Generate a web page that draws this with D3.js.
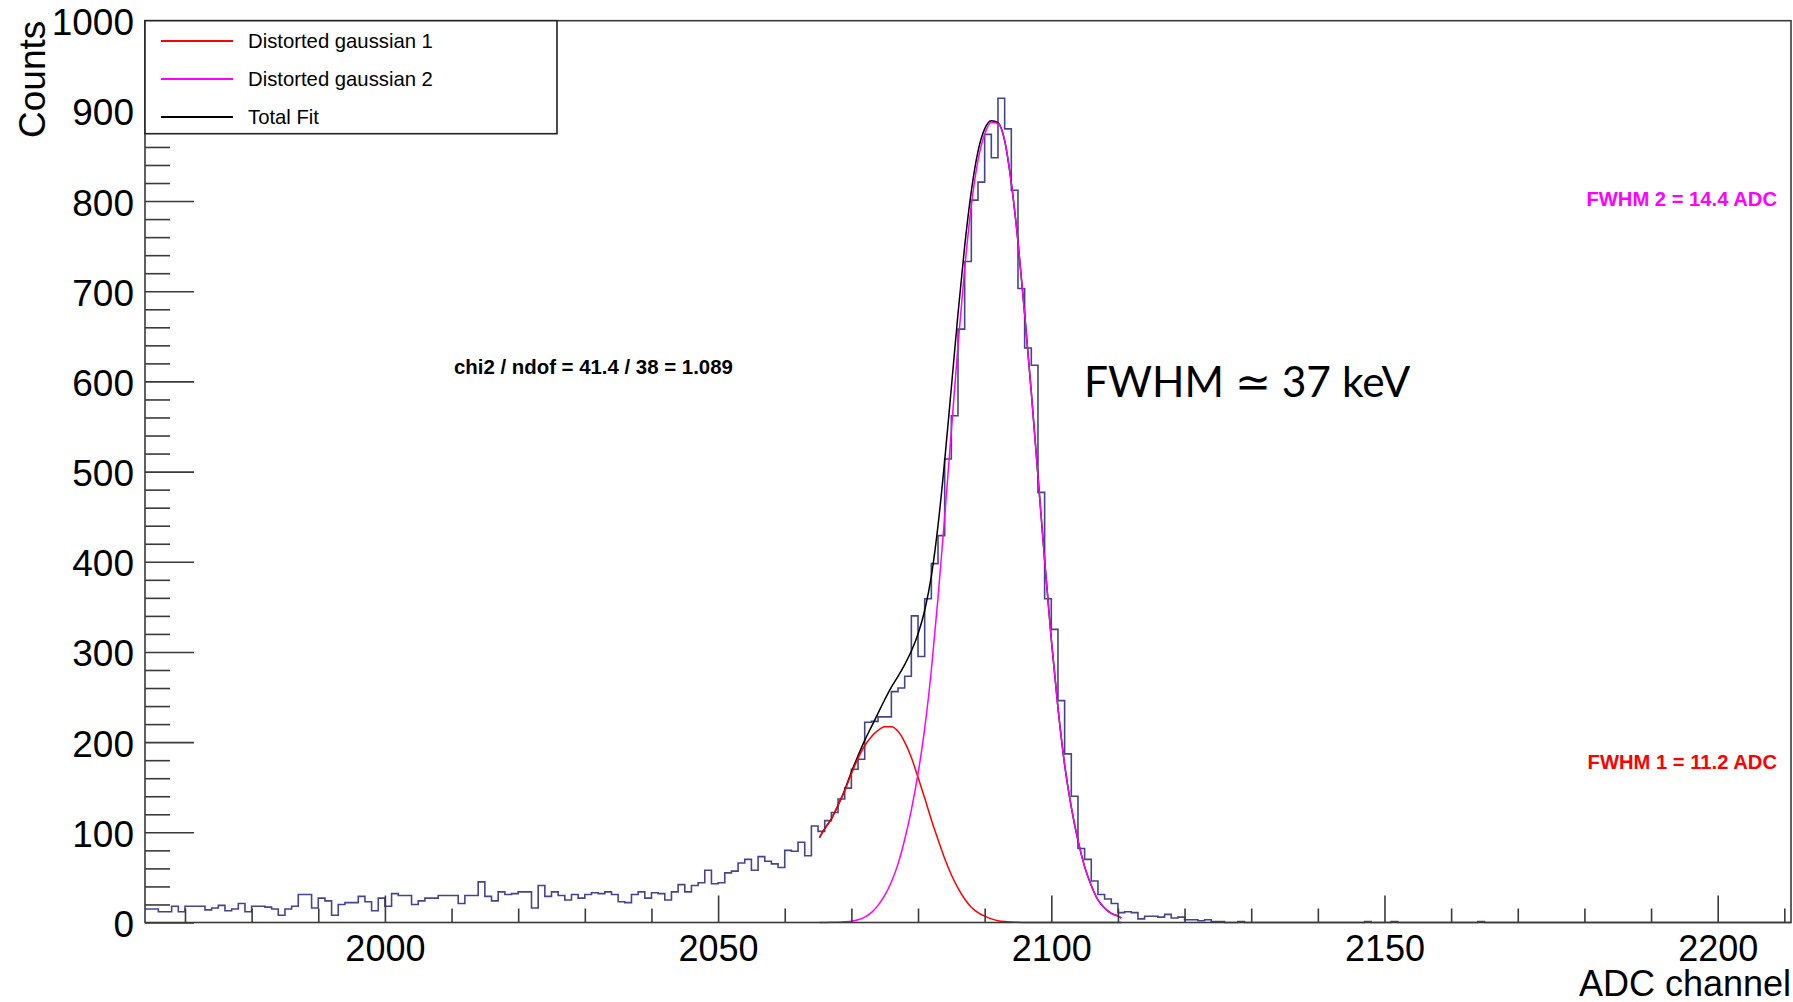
<!DOCTYPE html>
<html>
<head>
<meta charset="utf-8">
<script src="https://cdn.jsdelivr.net/npm/d3@7"></script>
<style>
  html, body { margin: 0; padding: 0; background: #fff; }
  svg { display: block; }
  text { font-family: "Liberation Sans", Arial, Helvetica, sans-serif; }
</style>
</head>
<body>
<svg id="chart" width="1793" height="1002"></svg>
<script>
// ---------------- DATA ----------------
const binStart = 1964;          // first bin lower edge (ADC channel), bin width = 1
const binWidth = 1;
const counts = [
  // 1964-1999
  15,15,12,12,18,12,18,18,18,14,16,19,13,15,21,12,18,18,17,15,8,15,18,31,31,16,27,24,8,20,22,22,29,23,13,27,
  // 2000-2015
  18,32,30,30,20,24,27,27,30,30,30,21,30,30,45,29,
  // 2016-2068
  24,34,31,32,34,34,16,41,29,34,30,25,31,27,31,33,32,34,31,23,22,31,34,27,33,32,25,34,42,34,41,44,58,43,44,
  55,57,66,70,58,73,68,65,61,80,79,89,74,107,101,113,122,137,
  // 2069-2093
  149,170,181,222,223,228,228,256,260,273,340,295,359,398,429,514,562,658,733,801,821,874,848,914,880,
  // 2094-2109
  812,703,637,618,477,359,325,246,187,140,82,70,46,31,26,21,
  // 2110-2124
  11,12,11,4,7,7,6,9,5,6,3,3,2,3,1,
  // 2125-2210
  1,0,0,1,0,0,0,0,0,0,0,0,0,0,0,0,0,0,0,0,0,0,1,0,0,0,1,0,0,0,0,0,0,0,0,0,0,0,0,1,
  0,0,0,0,0,0,0,0,0,0,0,0,0,0,0,0,0,0,0,0,0,0,0,0,0,0,0,0,0,0,0,0,0,0,0,0,0,0,0,0,0,0,0,0,0,0
];

// fit curves (channel, counts)
const fitX = [2065.2,2066,2067,2068,2069,2070,2071,2072,2073,2074,2075,2076,2077,2078,2079,2080,2081,2082,2083,2084,
  2085,2086,2087,2088,2089,2090,2091,2092,2093,2094,2095,2096,2097,2098,2099,2100,2101,2102,2103,2104,2105,2106,2107,2108,2109,2110,2110.5];
const gaus1Y = [94,104,115,130,146,165,182,196,206,213,217,217,212,200,183,161,138,114,92,71,
  53,38,26,17,11,7,4,2,1,0.5,0.2,0.1,0,0,0,0,0,0,0,0,0,0,0,0,0,0,0];
const gaus2Y = [0,0.1,0.2,0.4,0.8,1.5,3,6,11,19,30,45,65,92,125,165,215,280,360,450,
  545,640,725,795,845,874,887,886,867,820,755,675,588,495,402,314,238,175,128,91,62,41,25,16,10,7,5];
const totalY = [94,104,115,130,147,167,185,202,217,232,247,261,273,286,301,320,346,384,440,512,
  593,675,750,811,855,880,889,887,867,820,755,675,588,495,402,314,238,175,128,91,62,41,25,16,10,7,5];

const xMin = 1964, xMax = 2211;
const yMin = 0, yMax = 1000;
const xTickLabels = [2000, 2050, 2100, 2150, 2200];
const yTickLabels = [0, 100, 200, 300, 400, 500, 600, 700, 800, 900, 1000];

const legendEntries = ["Distorted gaussian 1", "Distorted gaussian 2", "Total Fit"];
const legendColors = ["#ff0000", "#ff00ff", "#000000"];

const chi2Text = "chi2 / ndof = 41.4 / 38 = 1.089";
const fwhm1Text = "FWHM 1 = 11.2 ADC";
const fwhm2Text = "FWHM 2 = 14.4 ADC";
const fwhmKeVText = "FWHM \u2243 37 keV";

// ---------------- LAYOUT ----------------
const frame = { left: 145, right: 1791, top: 20.7, bottom: 922.5 };
const svg = d3.select("#chart");

const x = d3.scaleLinear().domain([xMin, xMax]).range([frame.left, frame.right]);
const y = d3.scaleLinear().domain([yMin, yMax]).range([frame.bottom, frame.top]);

const axisColor = "#3a3a3a";

// ---------------- HISTOGRAM ----------------
const histPts = counts.map((c, i) => ({ e: binStart + i * binWidth, v: c }));
histPts.push({ e: binStart + counts.length * binWidth, v: counts[counts.length - 1] });
const histLine = d3.line().x(d => x(d.e)).y(d => y(d.v)).curve(d3.curveStepAfter);
svg.append("path").datum(histPts)
  .attr("d", histLine)
  .attr("fill", "none")
  .attr("stroke", "#45458f")
  .attr("stroke-width", 1.6);

// ---------------- FITS ----------------
const fitLine = d3.line().x(d => x(d[0])).y(d => y(d[1])).curve(d3.curveMonotoneX);
function drawFit(vals, color) {
  svg.append("path").datum(fitX.map((xv, i) => [xv, vals[i]]))
    .attr("d", fitLine)
    .attr("fill", "none")
    .attr("stroke", color)
    .attr("stroke-width", 1.5);
}
drawFit(totalY, "#000000");
drawFit(gaus1Y, "#ff0000");
drawFit(gaus2Y, "#ff00ff");

// ---------------- AXES ----------------
const majorY = 49, minorY = 25, majorX = 27, minorX = 14;
// y axis
const yAxis = d3.axisRight(y)
  .tickValues(d3.range(0, 1001, 20))
  .tickSize(0).tickFormat("");
const gy = svg.append("g").attr("transform", `translate(${frame.left},0)`).call(yAxis);
gy.select(".domain").remove();
gy.selectAll(".tick line")
  .attr("x2", d => (d % 100 === 0 ? majorY : minorY))
  .attr("stroke", axisColor).attr("stroke-width", 1.6);
gy.selectAll(".tick")
  .filter(d => yTickLabels.includes(d))
  .append("text")
  .attr("x", -11).attr("dy", 14)
  .attr("text-anchor", "end")
  .attr("fill", "#000")
  .style("font-size", "37px")
  .text(d => d);

// x axis
const xTicks = d3.range(1970, 2211, 10);
const xAxis = d3.axisTop(x).tickValues(xTicks).tickSize(0).tickFormat("");
const gx = svg.append("g").attr("transform", `translate(0,${frame.bottom})`).call(xAxis);
gx.select(".domain").remove();
gx.selectAll(".tick line")
  .attr("y2", d => (d % 50 === 0 ? -majorX : -minorX))
  .attr("stroke", axisColor).attr("stroke-width", 1.6);
gx.selectAll(".tick")
  .filter(d => xTickLabels.includes(d))
  .append("text")
  .attr("y", 38)
  .attr("text-anchor", "middle")
  .attr("fill", "#000")
  .style("font-size", "36px")
  .text(d => d);

// frame
svg.append("rect")
  .attr("x", frame.left).attr("y", frame.top)
  .attr("width", frame.right - frame.left).attr("height", frame.bottom - frame.top)
  .attr("fill", "none").attr("stroke", axisColor).attr("stroke-width", 1.6);

// axis titles
svg.append("text")
  .attr("x", frame.right).attr("y", 996)
  .attr("text-anchor", "end")
  .style("font-size", "36px")
  .text("ADC channel");
svg.append("text")
  .attr("transform", `translate(45,${frame.top}) rotate(-90)`)
  .attr("text-anchor", "end")
  .style("font-size", "37px")
  .text("Counts");

// ---------------- ANNOTATIONS ----------------
svg.append("text").attr("x", 454).attr("y", 374)
  .style("font-size", "20.4px").style("font-weight", "bold")
  .text(chi2Text);
svg.append("text").attr("x", 1777).attr("y", 206)
  .attr("text-anchor", "end").attr("fill", "#ff00ff")
  .style("font-size", "20.2px").style("font-weight", "bold")
  .text(fwhm2Text);
svg.append("text").attr("x", 1777).attr("y", 769)
  .attr("text-anchor", "end").attr("fill", "#ff0000")
  .style("font-size", "20.2px").style("font-weight", "bold")
  .text(fwhm1Text);
svg.append("text").attr("x", 1084).attr("y", 397)
  .style("font-family", "Lato, 'Open Sans', sans-serif")
  .style("font-size", "42.5px")
  .text(fwhmKeVText);

// ---------------- LEGEND ----------------
const leg = svg.append("g");
leg.append("rect")
  .attr("x", frame.left).attr("y", frame.top)
  .attr("width", 412).attr("height", 113)
  .attr("fill", "#fff").attr("stroke", "#222").attr("stroke-width", 1.6);
const legY = d3.scalePoint().domain(legendEntries).range([41, 117]);
legendEntries.forEach((name, i) => {
  leg.append("line")
    .attr("x1", 161).attr("x2", 233)
    .attr("y1", legY(name)).attr("y2", legY(name))
    .attr("stroke", legendColors[i]).attr("stroke-width", 2);
  leg.append("text")
    .attr("x", 248).attr("y", legY(name) + 7)
    .style("font-size", "20.3px")
    .text(name);
});
</script>
</body>
</html>
